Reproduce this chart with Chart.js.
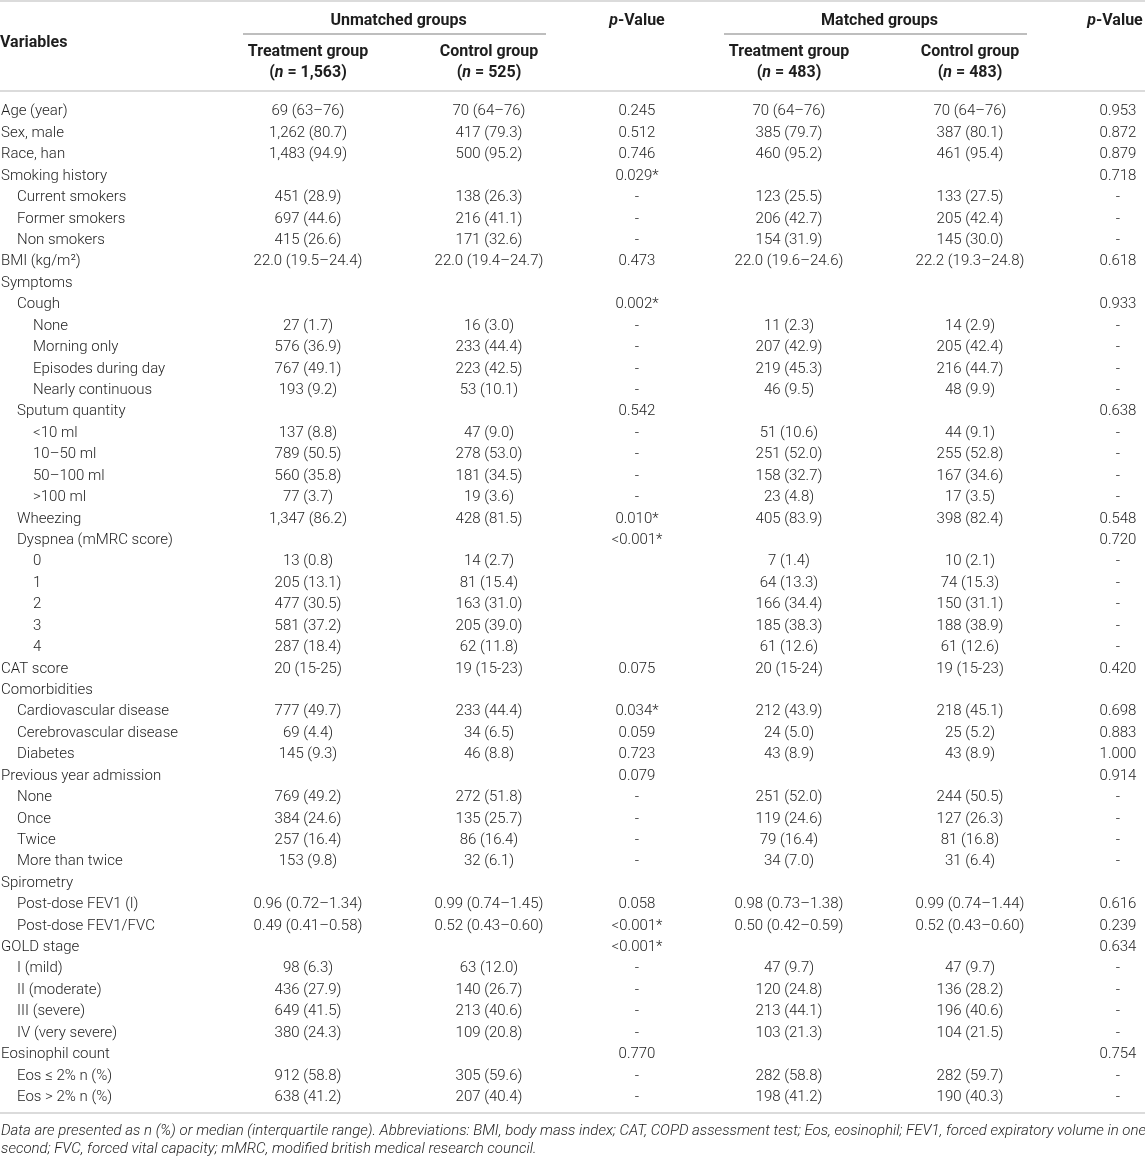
<!DOCTYPE html>
<html>
<head>
<meta charset="utf-8">
<script src="https://cdn.jsdelivr.net/npm/chart.js@4.4.0/dist/chart.umd.min.js"></script>
<style>
  html, body { margin: 0; padding: 0; background: #fff; }
  #baselineTable { display: block; }
</style>
</head>
<body>
<canvas id="baselineTable" width="1145" height="1162"></canvas>
<script>
// rows of the table
const variables = [
    'Age (year)', 'Sex, male', 'Race, han', 'Smoking history',
    'Current smokers', 'Former smokers', 'Non smokers', 'BMI (kg/m²)',
    'Symptoms', 'Cough', 'None', 'Morning only', 'Episodes during day', 'Nearly continuous',
    'Sputum quantity', '<10 ml', '10–50 ml', '50–100 ml', '>100 ml',
    'Wheezing', 'Dyspnea (mMRC score)', '0', '1', '2', '3', '4',
    'CAT score', 'Comorbidities', 'Cardiovascular disease', 'Cerebrovascular disease', 'Diabetes',
    'Previous year admission', 'None', 'Once', 'Twice', 'More than twice',
    'Spirometry', 'Post-dose FEV1 (l)', 'Post-dose FEV1/FVC',
    'GOLD stage', 'I (mild)', 'II (moderate)', 'III (severe)', 'IV (very severe)',
    'Eosinophil count', 'Eos ≤ 2% n (%)', 'Eos > 2% n (%)'
];
const levels = [
    0, 0, 0, 0,
    1, 1, 1, 0,
    0, 1, 2, 2, 2, 2,
    1, 2, 2, 2, 2,
    1, 1, 2, 2, 2, 2, 2,
    0, 0, 1, 1, 1,
    0, 1, 1, 1, 1,
    0, 1, 1,
    0, 1, 1, 1, 1,
    0, 1, 1
];

const unmatchedTreatment = [
    '69 (63–76)', '1,262 (80.7)', '1,483 (94.9)', '',
    '451 (28.9)', '697 (44.6)', '415 (26.6)', '22.0 (19.5–24.4)',
    '', '', '27 (1.7)', '576 (36.9)', '767 (49.1)', '193 (9.2)',
    '', '137 (8.8)', '789 (50.5)', '560 (35.8)', '77 (3.7)',
    '1,347 (86.2)', '', '13 (0.8)', '205 (13.1)', '477 (30.5)', '581 (37.2)', '287 (18.4)',
    '20 (15-25)', '', '777 (49.7)', '69 (4.4)', '145 (9.3)',
    '', '769 (49.2)', '384 (24.6)', '257 (16.4)', '153 (9.8)',
    '', '0.96 (0.72–1.34)', '0.49 (0.41–0.58)',
    '', '98 (6.3)', '436 (27.9)', '649 (41.5)', '380 (24.3)',
    '', '912 (58.8)', '638 (41.2)'
];
const unmatchedControl = [
    '70 (64–76)', '417 (79.3)', '500 (95.2)', '',
    '138 (26.3)', '216 (41.1)', '171 (32.6)', '22.0 (19.4–24.7)',
    '', '', '16 (3.0)', '233 (44.4)', '223 (42.5)', '53 (10.1)',
    '', '47 (9.0)', '278 (53.0)', '181 (34.5)', '19 (3.6)',
    '428 (81.5)', '', '14 (2.7)', '81 (15.4)', '163 (31.0)', '205 (39.0)', '62 (11.8)',
    '19 (15-23)', '', '233 (44.4)', '34 (6.5)', '46 (8.8)',
    '', '272 (51.8)', '135 (25.7)', '86 (16.4)', '32 (6.1)',
    '', '0.99 (0.74–1.45)', '0.52 (0.43–0.60)',
    '', '63 (12.0)', '140 (26.7)', '213 (40.6)', '109 (20.8)',
    '', '305 (59.6)', '207 (40.4)'
];
const unmatchedP = [
    '0.245', '0.512', '0.746', '0.029*',
    '-', '-', '-', '0.473',
    '', '0.002*', '-', '-', '-', '-',
    '0.542', '-', '-', '-', '-',
    '0.010*', '<0.001*', '', '', '', '', '',
    '0.075', '', '0.034*', '0.059', '0.723',
    '0.079', '-', '-', '-', '-',
    '', '0.058', '<0.001*',
    '<0.001*', '-', '-', '-', '-',
    '0.770', '-', '-'
];
const matchedTreatment = [
    '70 (64–76)', '385 (79.7)', '460 (95.2)', '',
    '123 (25.5)', '206 (42.7)', '154 (31.9)', '22.0 (19.6–24.6)',
    '', '', '11 (2.3)', '207 (42.9)', '219 (45.3)', '46 (9.5)',
    '', '51 (10.6)', '251 (52.0)', '158 (32.7)', '23 (4.8)',
    '405 (83.9)', '', '7 (1.4)', '64 (13.3)', '166 (34.4)', '185 (38.3)', '61 (12.6)',
    '20 (15-24)', '', '212 (43.9)', '24 (5.0)', '43 (8.9)',
    '', '251 (52.0)', '119 (24.6)', '79 (16.4)', '34 (7.0)',
    '', '0.98 (0.73–1.38)', '0.50 (0.42–0.59)',
    '', '47 (9.7)', '120 (24.8)', '213 (44.1)', '103 (21.3)',
    '', '282 (58.8)', '198 (41.2)'
];
const matchedControl = [
    '70 (64–76)', '387 (80.1)', '461 (95.4)', '',
    '133 (27.5)', '205 (42.4)', '145 (30.0)', '22.2 (19.3–24.8)',
    '', '', '14 (2.9)', '205 (42.4)', '216 (44.7)', '48 (9.9)',
    '', '44 (9.1)', '255 (52.8)', '167 (34.6)', '17 (3.5)',
    '398 (82.4)', '', '10 (2.1)', '74 (15.3)', '150 (31.1)', '188 (38.9)', '61 (12.6)',
    '19 (15-23)', '', '218 (45.1)', '25 (5.2)', '43 (8.9)',
    '', '244 (50.5)', '127 (26.3)', '81 (16.8)', '31 (6.4)',
    '', '0.99 (0.74–1.44)', '0.52 (0.43–0.60)',
    '', '47 (9.7)', '136 (28.2)', '196 (40.6)', '104 (21.5)',
    '', '282 (59.7)', '190 (40.3)'
];
const matchedP = [
    '0.953', '0.872', '0.879', '0.718',
    '-', '-', '-', '0.618',
    '', '0.933', '-', '-', '-', '-',
    '0.638', '-', '-', '-', '-',
    '0.548', '0.720', '-', '-', '-', '-', '-',
    '0.420', '', '0.698', '0.883', '1.000',
    '0.914', '-', '-', '-', '-',
    '', '0.616', '0.239',
    '0.634', '-', '-', '-', '-',
    '0.754', '-', '-'
];

const groupTitles = ['Unmatched groups', 'Matched groups'];
const armTitles = ['Treatment group', 'Control group', 'Treatment group', 'Control group'];
const armCounts = ['1,563', '525', '483', '483'];
const footnoteLines = [
    'Data are presented as n (%) or median (interquartile range). Abbreviations: BMI, body mass index; CAT, COPD assessment test; Eos, eosinophil; FEV1, forced expiratory volume in one',
    'second; FVC, forced vital capacity; mMRC, modified british medical research council.'
];

// layout
const columns = [unmatchedTreatment, unmatchedControl, unmatchedP, matchedTreatment, matchedControl, matchedP];
const colX = [308, 489, 637, 789, 970, 1118];
const FAMILY = 'Roboto, "Liberation Sans", Arial, sans-serif';
const TEXT = '#1e1e1e';
const RULE = '#cfcfcf';

function drawRich(ctx, parts, x, y, align, weight, size) {
    const fonts = parts.map(p => `${p.i ? 'italic ' : ''}${weight} ${size}px ${FAMILY}`);
    const widths = parts.map((p, k) => { ctx.font = fonts[k]; return ctx.measureText(p.t).width; });
    const total = widths.reduce((a, b) => a + b, 0);
    let cx = align === 'center' ? x - total / 2 : (align === 'right' ? x - total : x);
    ctx.textAlign = 'left';
    ctx.textBaseline = 'middle';
    parts.forEach((p, k) => {
        ctx.font = fonts[k];
        ctx.fillText(p.t, cx, y);
        cx += widths[k];
    });
}

function hLine(ctx, x1, x2, y, color, width) {
    ctx.beginPath();
    ctx.strokeStyle = color;
    ctx.lineWidth = width;
    ctx.moveTo(x1, y);
    ctx.lineTo(x2, y);
    ctx.stroke();
}

const tablePlugin = {
    id: 'tableText',
    afterDatasetsDraw(chart) {
        const ctx = chart.ctx;
        const area = chart.chartArea;
        const xs = chart.scales.x;
        const ys = chart.scales.y;
        ctx.save();
        ctx.fillStyle = TEXT;

        // rules
        hLine(ctx, 0, chart.width, area.top - 100, RULE, 1.5);
        hLine(ctx, 0, chart.width, area.top - 10, RULE, 1.5);
        hLine(ctx, 0, chart.width, area.bottom + 5, RULE, 1.5);

        // header
        const hw = 700, hs = 16;
        drawRich(ctx, [{ t: 'Variables' }], area.left, area.top - 58, 'left', hw, hs);
        [[0, 1], [3, 4]].forEach((pair, g) => {
            const a = xs.getPixelForValue(colX[pair[0]]);
            const b = xs.getPixelForValue(colX[pair[1]]);
            drawRich(ctx, [{ t: groupTitles[g] }], (a + b) / 2, area.top - 80, 'center', hw, hs);
            hLine(ctx, a - 65, b + 57, area.top - 67, '#a8a8a8', 1.5);
        });
        [0, 1, 3, 4].forEach((c, k) => {
            const x = xs.getPixelForValue(colX[c]);
            drawRich(ctx, [{ t: armTitles[k] }], x, area.top - 49, 'center', hw, hs);
            drawRich(ctx, [{ t: '(' }, { t: 'n', i: true }, { t: ' = ' + armCounts[k] + ')' }], x, area.top - 28, 'center', hw, hs);
        });
        [2, 5].forEach(c => {
            drawRich(ctx, [{ t: 'p', i: true }, { t: '-Value' }], Math.min(xs.getPixelForValue(colX[c]), chart.width - 30), area.top - 80, 'center', hw, hs);
        });

        // row labels
        variables.forEach((label, i) => {
            drawRich(ctx, [{ t: label }], area.left + 1 + levels[i] * 16, ys.getPixelForValue(i), 'left', 300, 15);
        });

        // cells, placed at each dataset point
        chart.data.datasets.forEach((ds, c) => {
            chart.getDatasetMeta(c).data.forEach((pt, i) => {
                const v = columns[c][i];
                if (v) drawRich(ctx, [{ t: v }], pt.x, pt.y, 'center', 300, 15);
            });
        });

        // footnote
        footnoteLines.forEach((line, k) => {
            drawRich(ctx, [{ t: line, i: true }], area.left + 1, area.bottom + 23 + k * 18, 'left', 300, 15);
        });
        ctx.restore();
    }
};

const tableChart = new Chart(document.getElementById('baselineTable').getContext('2d'), {
    type: 'scatter',
    data: {
        labels: variables,
        datasets: columns.map((col, c) => ({
            label: 'col' + c,
            data: col.map((v, i) => ({ x: colX[c], y: i })),
            pointRadius: 0,
            pointHoverRadius: 0
        }))
    },
    options: {
        responsive: false,
        animation: false,
        events: [],
        layout: { padding: { top: 101, bottom: 54, left: 0, right: 0 } },
        plugins: { legend: { display: false }, tooltip: { enabled: false } },
        scales: {
            x: { type: 'linear', min: 0, max: 1145, display: false },
            y: { type: 'category', labels: variables, offset: true, display: false }
        }
    },
    plugins: [tablePlugin]
});
</script>
</body>
</html>
